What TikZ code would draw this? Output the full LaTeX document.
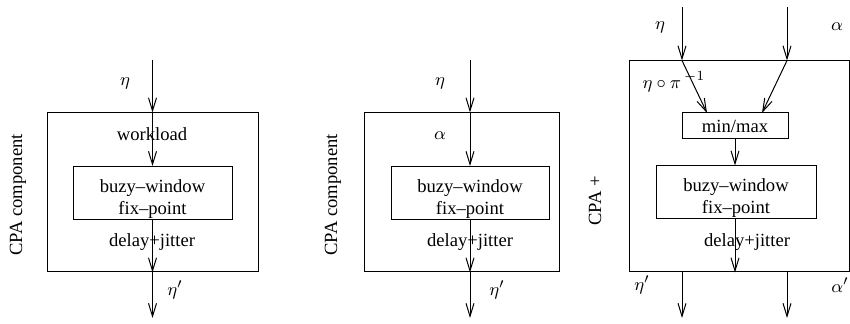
\documentclass[tikz,border=0pt]{standalone}
\usepackage{fontspec}
\setmainfont{Liberation Serif}
\usetikzlibrary{arrows.meta}

\tikzset{
  blk/.style = {draw, inner sep=0pt, align=center},
  twoline/.style = {align=center, inner sep=0pt},
}

\begin{document}
\begin{tikzpicture}[x=0.5pt, y=-0.5pt, line width=0.5pt,
    >={Straight Barb[length=6.5pt,width=4pt]},
    font=\fontsize{9.3}{11}\selectfont]
	\useasboundingbox (0,0) rectangle (850,324);
	% first component
	\node[blk, minimum width=105.5pt, minimum height=79.5pt] (outerA) at (152.5,192.5) {};
	\node[blk, minimum width=79.5pt, minimum height=26.5pt] (innerA) at (152.5,193) {};
	\node[twoline] (textA) at (152.5,199) {buzy--window\\fix--point};
	\coordinate (topA) at (152.5,60);
	\coordinate (botA) at (152.5,318);
	\draw[->] (topA) -- (outerA.north);
	\draw[->] (outerA.north) -- (innerA.north);
	\draw[->] (innerA.south) -- (outerA.south);
	\draw[->] (outerA.south) -- (botA);
	\node (etaA) at (125,83) {$\eta$};
	\node (workA) at (152,134) {workload};
	\node (delayA) at (152,242) {delay+jitter};
	\node (etapA) at (175,290) {$\eta'$};
	\node[rotate=90] (cpaA) at (18,195) {CPA component};
	% second component
	\node[blk, minimum width=97.5pt, minimum height=79.5pt] (outerB) at (461.5,192.5) {};
	\node[blk, minimum width=79pt, minimum height=26.5pt] (innerB) at (470,193) {};
	\node[twoline] (textB) at (470,199) {buzy--window\\fix--point};
	\coordinate (topB) at (470,60);
	\coordinate (botB) at (470,318);
	\draw[->] (topB) -- (topB |- outerB.north);
	\draw[->] (topB |- outerB.north) -- (innerB.north);
	\draw[->] (innerB.south) -- (topB |- outerB.south);
	\draw[->] (topB |- outerB.south) -- (botB);
	\node (etaB) at (440,83) {$\eta$};
	\node (alphaB) at (440,136) {$\alpha$};
	\node (delayB) at (470,242) {delay+jitter};
	\node (etapB) at (497,290) {$\eta'$};
	\node[rotate=90] (cpaB) at (333,195) {CPA component};
	% extended component
	\node[blk, minimum width=110pt, minimum height=105.5pt] (outerC) at (739,166.5) {};
	\node[blk, minimum width=53pt, minimum height=13pt] (minmaxC) at (735,126) {min/max};
	\node[blk, minimum width=80pt, minimum height=26.5pt] (innerC) at (736,192.5) {};
	\node[twoline] (textC) at (736,198.5) {buzy--window\\fix--point};
	\coordinate (inEtaC) at (682,7);
	\coordinate (inAlphaC) at (787,7);
	\coordinate (mmL) at (707,113);
	\coordinate (mmR) at (762,113);
	\coordinate (outEtaC) at (682,318);
	\coordinate (outAlphaC) at (787,318);
	\draw[->] (inEtaC) -- (inEtaC |- outerC.north);
	\draw[->] (inAlphaC) -- (inAlphaC |- outerC.north);
	\draw[->] (inEtaC |- outerC.north) -- (mmL);
	\draw[->] (inAlphaC |- outerC.north) -- (mmR);
	\draw[->] (minmaxC.south) -- (minmaxC.south |- innerC.north);
	\draw[->] (minmaxC.south |- innerC.south) -- (minmaxC.south |- outerC.south);
	\draw[->] (inEtaC |- outerC.south) -- (outEtaC);
	\draw[->] (inAlphaC |- outerC.south) -- (outAlphaC);
	\node (etaC) at (660,27) {$\eta$};
	\node (alphaC) at (837,27) {$\alpha$};
	\node (compC) at (674,82) {$\eta\circ\pi^{\,-1}$};
	\node (delayC) at (747,242) {delay+jitter};
	\node (etapC) at (642,285) {$\eta'$};
	\node (alphapC) at (840,285) {$\alpha'$};
	\node[rotate=90] (cpaC) at (595,201) {CPA +};
\end{tikzpicture}
\end{document}
